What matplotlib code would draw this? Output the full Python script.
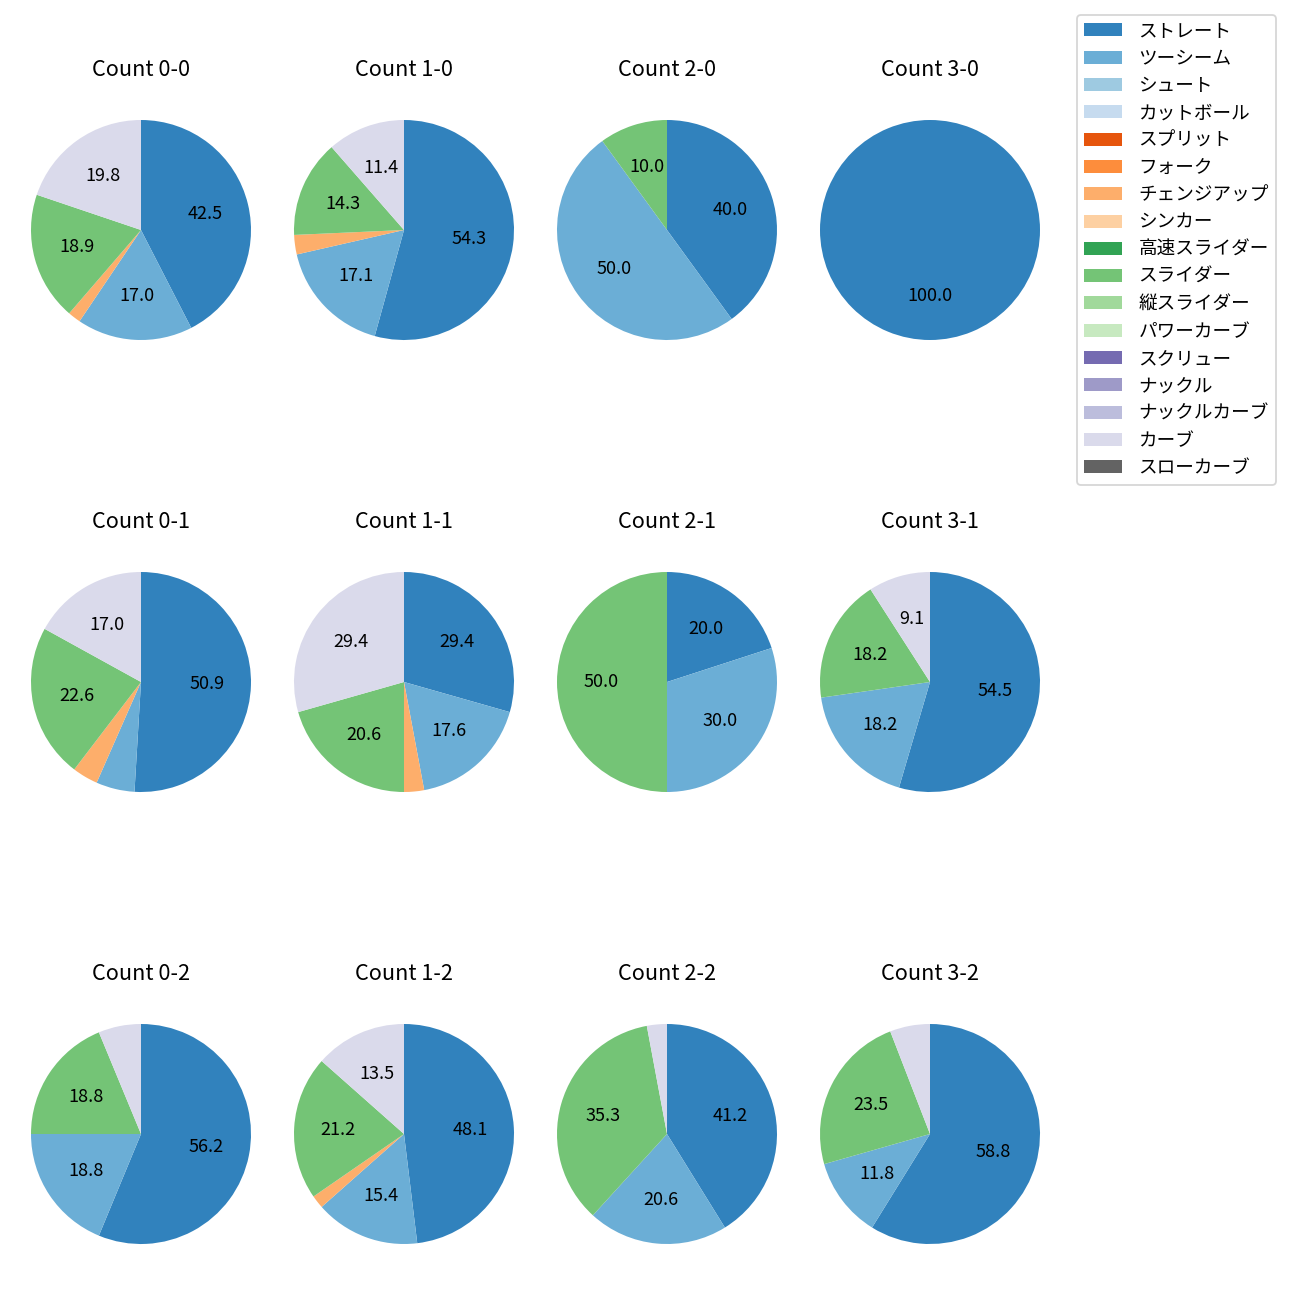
import matplotlib
matplotlib.use("Agg")
import matplotlib.pyplot as plt
from matplotlib.patches import Patch

plt.rcParams['font.family'] = ['Noto Sans CJK JP', 'DejaVu Sans']

pitch_types = ['ストレート', 'ツーシーム', 'シュート', 'カットボール', 'スプリット', 'フォーク',
               'チェンジアップ', 'シンカー', '高速スライダー', 'スライダー', '縦スライダー',
               'パワーカーブ', 'スクリュー', 'ナックル', 'ナックルカーブ', 'カーブ', 'スローカーブ']

# counts per pitch type (order as pitch_types) for each ball-strike count
counts = {
    'Count 0-0': [45, 18, 0, 0, 0, 0, 2, 0, 0, 20, 0, 0, 0, 0, 0, 21, 0],
    'Count 1-0': [19, 6, 0, 0, 0, 0, 1, 0, 0, 5, 0, 0, 0, 0, 0, 4, 0],
    'Count 2-0': [4, 5, 0, 0, 0, 0, 0, 0, 0, 1, 0, 0, 0, 0, 0, 0, 0],
    'Count 3-0': [1, 0, 0, 0, 0, 0, 0, 0, 0, 0, 0, 0, 0, 0, 0, 0, 0],
    'Count 0-1': [27, 3, 0, 0, 0, 0, 2, 0, 0, 12, 0, 0, 0, 0, 0, 9, 0],
    'Count 1-1': [10, 6, 0, 0, 0, 0, 1, 0, 0, 7, 0, 0, 0, 0, 0, 10, 0],
    'Count 2-1': [2, 3, 0, 0, 0, 0, 0, 0, 0, 5, 0, 0, 0, 0, 0, 0, 0],
    'Count 3-1': [6, 2, 0, 0, 0, 0, 0, 0, 0, 2, 0, 0, 0, 0, 0, 1, 0],
    'Count 0-2': [9, 3, 0, 0, 0, 0, 0, 0, 0, 3, 0, 0, 0, 0, 0, 1, 0],
    'Count 1-2': [25, 8, 0, 0, 0, 0, 1, 0, 0, 11, 0, 0, 0, 0, 0, 7, 0],
    'Count 2-2': [14, 7, 0, 0, 0, 0, 0, 0, 0, 12, 0, 0, 0, 0, 0, 1, 0],
    'Count 3-2': [10, 2, 0, 0, 0, 0, 0, 0, 0, 4, 0, 0, 0, 0, 0, 1, 0],
}
titles = list(counts.keys())

cmap = plt.get_cmap('tab20c')
colors = [cmap(i) for i in range(len(pitch_types))]

fig = plt.figure(figsize=(10, 10), dpi=130)
W = H = 1300.0
col_centers = [141, 404, 667, 930]
row_centers = [230, 682, 1134]
size = 275.0

def autopct(p):
    return f'{p:.1f}' if p >= 8 else ''

for idx, title in enumerate(titles):
    r, c = divmod(idx, 4)
    cx, cy = col_centers[c], row_centers[r]
    ax = fig.add_axes([(cx - size / 2) / W, 1 - (cy + size / 2) / H, size / W, size / H])
    vals = counts[title]
    v = [x for x in vals if x > 0]
    col = [colors[i] for i, x in enumerate(vals) if x > 0]
    ax.pie(v, colors=col, startangle=90, counterclock=False, autopct=autopct,
           textprops={'fontsize': 10})
    ax.set_title(title, fontsize=12, pad=9)

handles = [Patch(facecolor=colors[i], label=pitch_types[i]) for i in range(len(pitch_types))]
fig.legend(handles=handles, loc='upper left', bbox_to_anchor=(1077 / W, 1 - 15 / H),
           borderaxespad=0, fontsize=10.3, handletextpad=0.9)

fig.savefig('out.png', dpi=130)
